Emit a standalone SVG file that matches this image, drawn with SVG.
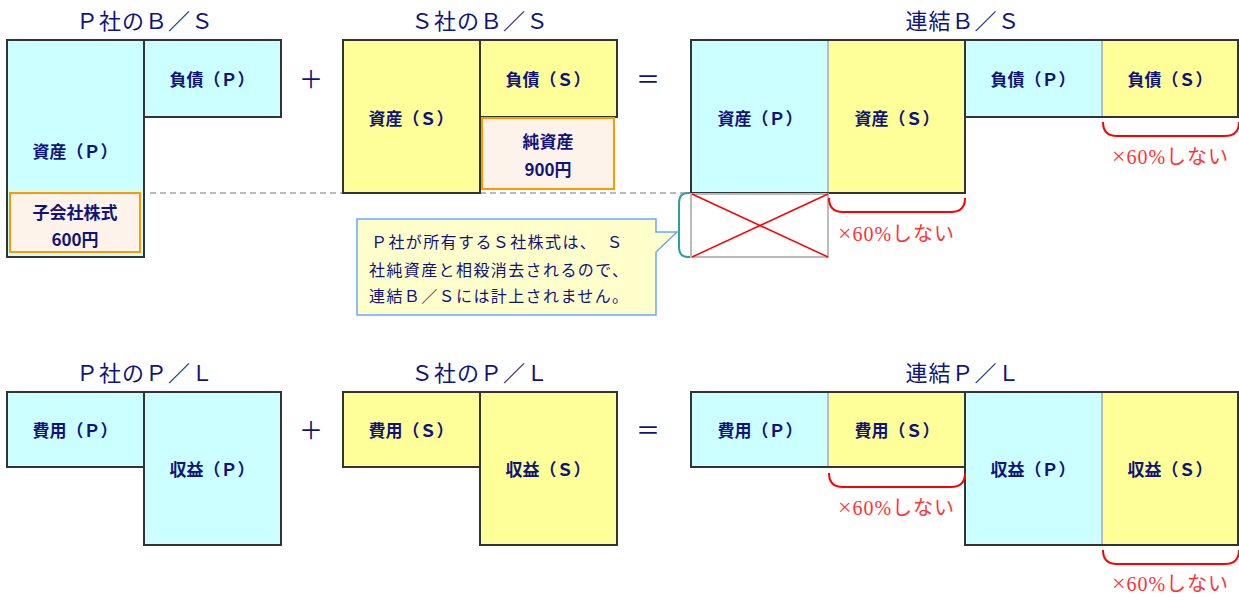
<svg xmlns="http://www.w3.org/2000/svg" width="1239" height="597" viewBox="0 0 1239 597">
<style>
.bg{fill:#fff}
.c{fill:#CCFFFF;stroke:#333;stroke-width:2}
.y{fill:#FFFF99;stroke:#333;stroke-width:2}
.cf{fill:#CCFFFF}
.yf{fill:#FFFF99}
.frame{fill:none;stroke:#333;stroke-width:2}
.sep{stroke:#BBBBBB;stroke-width:2}
.ob{fill:#FDF3EA;stroke:#FF9900;stroke-width:2}
.t{font-family:"Noto Sans CJK JP","Noto Sans",sans-serif;fill:#10147A;text-anchor:middle}
.lbl{font-size:17px;font-weight:700}
.ttl{font-size:22px;font-weight:400;letter-spacing:1px}
.op{font-size:24px}
.red{font-family:"Liberation Serif","Noto Sans CJK JP",serif;fill:#FF3333;font-size:20px;text-anchor:middle}
.x{font-size:24px}
.br{fill:none;stroke:#FF0000;stroke-width:2}
.call{font-family:"Noto Sans CJK JP",sans-serif;fill:#10147A;font-size:16px;letter-spacing:1.4px}
</style>
<rect class="bg" x="0" y="0" width="1239" height="597"/>

<!-- titles -->
<g id="titles">
<text class="t ttl" x="145" y="29">Ｐ社のＢ／Ｓ</text>
<text class="t ttl" x="480" y="29">Ｓ社のＢ／Ｓ</text>
<text class="t ttl" x="963" y="29">連結Ｂ／Ｓ</text>
<text class="t ttl" x="145" y="381">Ｐ社のＰ／Ｌ</text>
<text class="t ttl" x="480" y="381">Ｓ社のＰ／Ｌ</text>
<text class="t ttl" x="963" y="381">連結Ｐ／Ｌ</text>
<text class="t op" x="311" y="88">＋</text>
<text class="t op" x="648" y="88">＝</text>
<text class="t op" x="311" y="439">＋</text>
<text class="t op" x="648" y="439">＝</text>
</g>

<!-- connectors -->
<g id="connectors">
<line x1="150" y1="193" x2="690" y2="193" stroke="#BBBBBB" stroke-width="2" stroke-dasharray="6 4"/>
<path d="M690,193 H688 Q679,193 679,203 V247 Q679,257 688,257 H690" fill="none" stroke="#2E9E9E" stroke-width="2"/>
</g>

<!-- P B/S -->
<g id="p-bs-assets">
<rect class="c" x="7" y="40" width="137" height="217"/>
<text class="t lbl" x="75" y="158">資産（Ｐ）</text>
</g>
<g id="p-bs-liab">
<rect class="c" x="144" y="40" width="137" height="77"/>
<text class="t lbl" x="212" y="86">負債（Ｐ）</text>
</g>
<g id="p-bs-stock">
<rect class="ob" x="10" y="193" width="130" height="59"/>
<text class="t lbl" x="75" y="219">子会社株式</text>
<text class="t lbl" x="75" y="246">600円</text>
</g>

<!-- S B/S -->
<g id="s-bs-assets">
<rect class="y" x="343" y="40" width="137" height="153"/>
<text class="t lbl" x="411" y="125">資産（Ｓ）</text>
</g>
<g id="s-bs-liab">
<rect class="y" x="480" y="40" width="137" height="77"/>
<text class="t lbl" x="548" y="86">負債（Ｓ）</text>
</g>
<g id="s-bs-netassets">
<rect class="ob" x="482" y="118" width="132" height="71"/>
<text class="t lbl" x="548" y="148">純資産</text>
<text class="t lbl" x="548" y="176">900円</text>
</g>

<!-- Consolidated B/S -->
<g id="c-bs-assets">
<rect class="cf" x="691" y="40" width="137" height="153"/>
<rect class="yf" x="828" y="40" width="137" height="153"/>
<line class="sep" x1="828" y1="41" x2="828" y2="192"/>
<rect class="frame" x="691" y="40" width="274" height="153"/>
<text class="t lbl" x="760" y="125">資産（Ｐ）</text>
<text class="t lbl" x="897" y="125">資産（Ｓ）</text>
</g>
<g id="c-bs-liab">
<rect class="cf" x="965" y="40" width="137" height="77"/>
<rect class="yf" x="1102" y="40" width="136" height="77"/>
<line class="sep" x1="1102" y1="41" x2="1102" y2="116"/>
<rect class="frame" x="965" y="40" width="273" height="77"/>
<text class="t lbl" x="1033" y="86">負債（Ｐ）</text>
<text class="t lbl" x="1170" y="86">負債（Ｓ）</text>
</g>
<g id="c-bs-crossed">
<rect x="691" y="194" width="137" height="63" fill="none" stroke="#BBBBBB" stroke-width="2"/>
<line x1="692" y1="194" x2="828" y2="257" stroke="#FF0000" stroke-width="1.5"/>
<line x1="692" y1="257" x2="828" y2="194" stroke="#FF0000" stroke-width="1.5"/>
</g>
<g id="c-bs-note1">
<path class="br" d="M829,198 Q829,212 843,212 H951 Q965,212 965,198"/>
<text class="red" x="896" y="241" textLength="116" lengthAdjust="spacing"><tspan class="x">×</tspan>60%しない</text>
</g>
<g id="c-bs-note2">
<path class="br" d="M1103,122 Q1103,136 1117,136 H1225 Q1239,136 1239,122"/>
<text class="red" x="1170" y="164" textLength="116" lengthAdjust="spacing"><tspan class="x">×</tspan>60%しない</text>
</g>

<!-- callout -->
<g id="callout">
<path d="M357,219 H656 V232 H677 L656,252 V315 H357 Z" fill="#FFFFCC" stroke="#66AAFF" stroke-width="1.5"/>
<text class="call" x="371" y="248">Ｐ社が所有するＳ社株式は、　Ｓ</text>
<text class="call" x="369" y="276">社純資産と相殺消去されるので、</text>
<text class="call" x="369" y="302">連結Ｂ／Ｓには計上されません。</text>
</g>

<!-- P P/L -->
<g id="p-pl-exp">
<rect class="c" x="7" y="392" width="137" height="75"/>
<text class="t lbl" x="75" y="437">費用（Ｐ）</text>
</g>
<g id="p-pl-rev">
<rect class="c" x="144" y="392" width="137" height="153"/>
<text class="t lbl" x="212" y="476">収益（Ｐ）</text>
</g>

<!-- S P/L -->
<g id="s-pl-exp">
<rect class="y" x="343" y="392" width="137" height="75"/>
<text class="t lbl" x="411" y="437">費用（Ｓ）</text>
</g>
<g id="s-pl-rev">
<rect class="y" x="480" y="392" width="137" height="153"/>
<text class="t lbl" x="548" y="476">収益（Ｓ）</text>
</g>

<!-- Consolidated P/L -->
<g id="c-pl-exp">
<rect class="cf" x="691" y="392" width="137" height="75"/>
<rect class="yf" x="828" y="392" width="137" height="75"/>
<line class="sep" x1="828" y1="393" x2="828" y2="466"/>
<rect class="frame" x="691" y="392" width="274" height="75"/>
<text class="t lbl" x="760" y="437">費用（Ｐ）</text>
<text class="t lbl" x="897" y="437">費用（Ｓ）</text>
</g>
<g id="c-pl-rev">
<rect class="cf" x="965" y="392" width="137" height="153"/>
<rect class="yf" x="1102" y="392" width="136" height="153"/>
<line class="sep" x1="1102" y1="393" x2="1102" y2="544"/>
<rect class="frame" x="965" y="392" width="273" height="153"/>
<text class="t lbl" x="1033" y="476">収益（Ｐ）</text>
<text class="t lbl" x="1170" y="476">収益（Ｓ）</text>
</g>
<g id="c-pl-note1">
<path class="br" d="M829,473 Q829,487 843,487 H951 Q965,487 965,473"/>
<text class="red" x="896" y="515" textLength="116" lengthAdjust="spacing"><tspan class="x">×</tspan>60%しない</text>
</g>
<g id="c-pl-note2">
<path class="br" d="M1103,550 Q1103,564 1117,564 H1225 Q1239,564 1239,550"/>
<text class="red" x="1170" y="591" textLength="116" lengthAdjust="spacing"><tspan class="x">×</tspan>60%しない</text>
</g>
</svg>
